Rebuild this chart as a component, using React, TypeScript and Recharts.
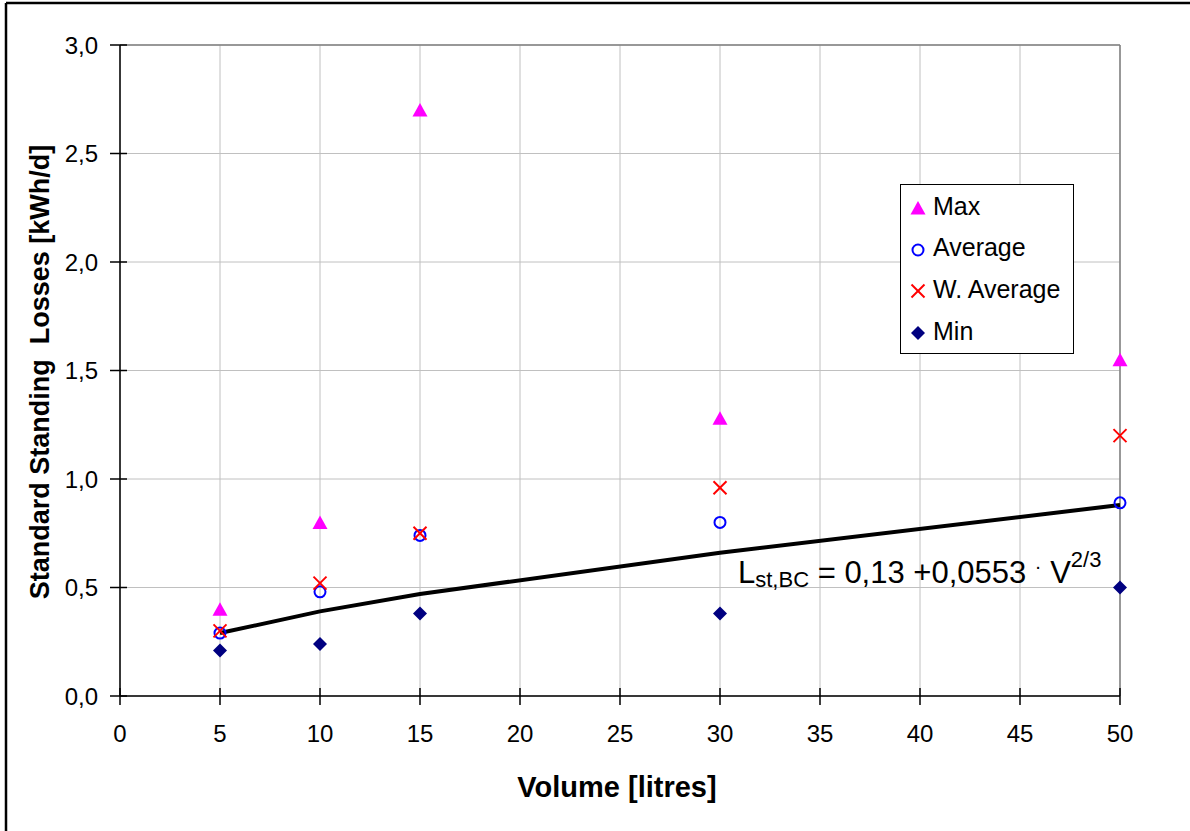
import {
  ComposedChart,
  Scatter,
  Line,
  XAxis,
  YAxis,
  CartesianGrid,
  Legend,
  ReferenceLine,
} from 'recharts';

const FONT = '"Liberation Sans", Arial, sans-serif';

const volumes = [5, 10, 15, 30, 50];
const maxLoss = [0.4, 0.8, 2.7, 1.28, 1.55];
const avgLoss = [0.29, 0.48, 0.74, 0.8, 0.89];
const wAvgLoss = [0.3, 0.52, 0.75, 0.96, 1.2];
const minLoss = [0.21, 0.24, 0.38, 0.38, 0.5];
const fitLoss = [0.29, 0.39, 0.47, 0.66, 0.88];

const xTicks = [0, 5, 10, 15, 20, 25, 30, 35, 40, 45, 50];
const yTicks = [0, 0.5, 1, 1.5, 2, 2.5, 3];

const legendItems = [
  { key: 'max', label: 'Max' },
  { key: 'avg', label: 'Average' },
  { key: 'wavg', label: 'W. Average' },
  { key: 'min', label: 'Min' },
];

const data = volumes.map((v, i) => ({
  v,
  max: maxLoss[i],
  avg: avgLoss[i],
  wavg: wAvgLoss[i],
  min: minLoss[i],
  fit: fitLoss[i],
}));

const fmtY = (v: number) => v.toFixed(1).replace('.', ',');

function Marker({ kind, cx, cy }: { kind: string; cx: number; cy: number }) {
  if (kind === 'max') {
    return (
      <polygon
        points={`${cx},${cy - 7} ${cx - 7.5},${cy + 6.5} ${cx + 7.5},${cy + 6.5}`}
        fill="#FF00FF"
      />
    );
  }
  if (kind === 'avg') {
    return <circle cx={cx} cy={cy} r={5.5} fill="none" stroke="#0000FF" strokeWidth={2} />;
  }
  if (kind === 'wavg') {
    return (
      <g stroke="#FF0000" strokeWidth={2}>
        <line x1={cx - 6.5} y1={cy - 6.5} x2={cx + 6.5} y2={cy + 6.5} />
        <line x1={cx - 6.5} y1={cy + 6.5} x2={cx + 6.5} y2={cy - 6.5} />
      </g>
    );
  }
  return (
    <polygon
      points={`${cx},${cy - 7} ${cx + 7},${cy} ${cx},${cy + 7} ${cx - 7},${cy}`}
      fill="#000080"
    />
  );
}

const shapeFor = (kind: string) => (props: any) =>
  <Marker kind={kind} cx={props.cx} cy={props.cy} />;

function YTick({ x, y, payload }: any) {
  return (
    <g>
      <line x1={x - 10} x2={x + 7} y1={y} y2={y} stroke="#000" strokeWidth={1.5} />
      <text x={x - 22} y={y + 8.5} textAnchor="end" fontSize={24} fontFamily={FONT} fill="#000">
        {fmtY(payload.value)}
      </text>
    </g>
  );
}

function XTick({ x, y, payload }: any) {
  return (
    <g>
      <line x1={x} x2={x} y1={y - 8} y2={y + 9} stroke="#000" strokeWidth={1.5} />
      <text x={x} y={y + 46} textAnchor="middle" fontSize={24} fontFamily={FONT} fill="#000">
        {payload.value}
      </text>
    </g>
  );
}

function LegendBox() {
  return (
    <div
      style={{
        position: 'relative',
        width: 172,
        height: 168,
        border: '1px solid #000',
        background: '#fff',
        fontFamily: FONT,
        fontSize: 25,
        color: '#000',
      }}
    >
      {legendItems.map((it, i) => (
        <div
          key={it.key}
          style={{
            position: 'absolute',
            left: 0,
            top: 21 + i * 41.7 - 15,
            height: 30,
            display: 'flex',
            alignItems: 'center',
            whiteSpace: 'pre',
          }}
        >
          <svg width={30} height={30} style={{ marginLeft: 2 }}>
            <Marker kind={it.key} cx={15} cy={17} />
          </svg>
          <span>{it.label}</span>
        </div>
      ))}
    </div>
  );
}

export default function App() {
  return (
    <div style={{ position: 'absolute', left: 0, top: 0, width: 1190, height: 831, background: '#fff' }}>
      <ComposedChart
        width={1190}
        height={831}
        data={data}
        margin={{ top: 45, right: 70, bottom: 0, left: 0 }}
      >
        <CartesianGrid stroke="#C0C0C0" strokeWidth={1} />
        <XAxis
          dataKey="v"
          type="number"
          domain={[0, 50]}
          ticks={xTicks}
          interval={0}
          height={135}
          tickSize={0}
          tickMargin={0}
          tick={<XTick />}
          axisLine={{ stroke: '#000', strokeWidth: 1.5 }}
          tickLine={false}
          label={() => (
            <text x={617} y={797} textAnchor="middle" fontSize={29} fontWeight="bold" fontFamily={FONT} fill="#000">
              Volume [litres]
            </text>
          )}
        />
        <YAxis
          type="number"
          domain={[0, 3]}
          ticks={yTicks}
          interval={0}
          width={120}
          tickSize={0}
          tickMargin={0}
          tick={<YTick />}
          axisLine={{ stroke: '#000', strokeWidth: 1.5 }}
          tickLine={false}
          label={() => (
            <text
              x={40}
              y={372}
              transform="rotate(-90 40 372)"
              textAnchor="middle"
              dominantBaseline="central"
              fontSize={27}
              fontWeight="bold"
              fontFamily={FONT}
              fill="#000"
              style={{ whiteSpace: 'pre' }}
            >
              Standard Standing  Losses [kWh/d]
            </text>
          )}
        />
        <ReferenceLine y={3} stroke="#808080" strokeWidth={1.5} />
        <ReferenceLine x={50} stroke="#808080" strokeWidth={1.5} />
        <Line
          dataKey="fit"
          stroke="#000"
          strokeWidth={4}
          dot={false}
          activeDot={false}
          isAnimationActive={false}
          legendType="none"
        />
        <Scatter dataKey="min" shape={shapeFor('min')} isAnimationActive={false} />
        <Scatter dataKey="avg" shape={shapeFor('avg')} isAnimationActive={false} />
        <Scatter dataKey="wavg" shape={shapeFor('wavg')} isAnimationActive={false} />
        <Scatter dataKey="max" shape={shapeFor('max')} isAnimationActive={false} />
        <Legend
          layout="vertical"
          align="center"
          verticalAlign="middle"
          content={() => <LegendBox />}
          wrapperStyle={{ position: 'absolute', left: 900, top: 184, width: 174, height: 170 }}
        />
      </ComposedChart>
      <svg
        width={1190}
        height={831}
        style={{ position: 'absolute', left: 0, top: 0, pointerEvents: 'none' }}
      >
        <line x1={6} y1={3} x2={6} y2={831} stroke="#000" strokeWidth={2.5} />
        <line x1={6} y1={3} x2={1190} y2={3} stroke="#000" strokeWidth={2.5} />
        <text x={738} y={583} fontSize={31} fontFamily={FONT} fill="#000" style={{ whiteSpace: 'pre' }}>
          L
          <tspan fontSize={22} dy={4}>st,BC</tspan>
          <tspan fontSize={31} dy={-4}> = 0,13 +0,0553 </tspan>
          <tspan fontSize={20} dy={-10}>·</tspan>
          <tspan fontSize={31} dy={10}> V</tspan>
          <tspan fontSize={22} dy={-16}>2/3</tspan>
        </text>
      </svg>
    </div>
  );
}
